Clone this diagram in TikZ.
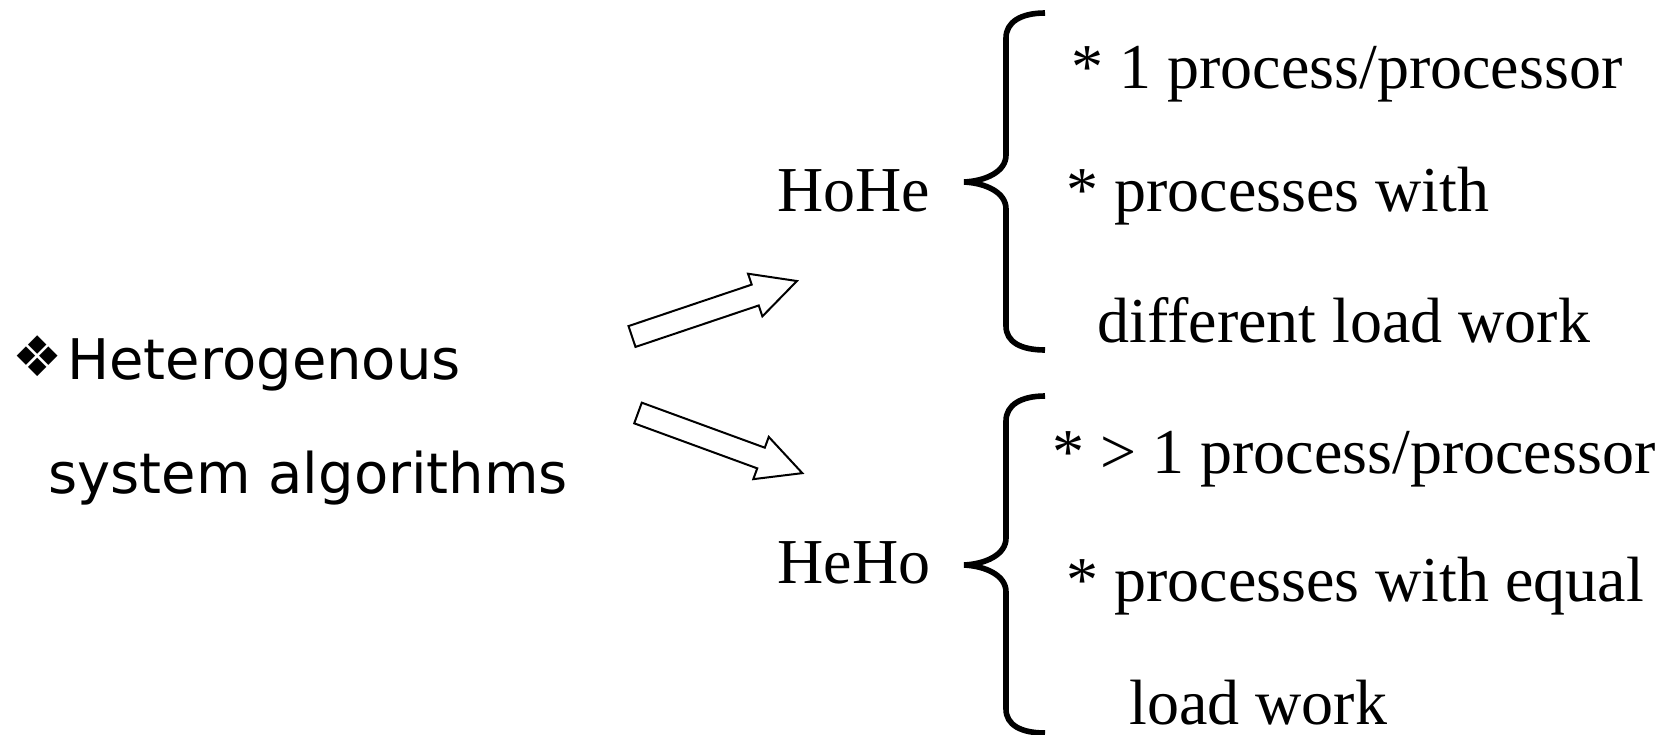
\documentclass[tikz,border=0pt]{standalone}
\usepackage{fontspec}
\setmainfont{Liberation Serif}
\newfontfamily\sansf{DejaVu Sans}
\begin{document}
\begin{tikzpicture}[x=0.5pt,y=-0.5pt,
  item/.style={inner sep=0pt, anchor=base west, font=\fontsize{32}{32}\selectfont},
  head/.style={inner sep=0pt, anchor=base west, font=\sansf\fontsize{28}{28}\selectfont},
  bracepath/.style={line width=2.8pt},
  arrowline/.style={draw, line width=1pt, fill=white, line join=miter},
  pics/curly/.style={code={
    \draw[bracepath] (0,-169) .. controls (-24,-169) and (-39,-160) .. (-39,-144)
      -- (-39,-27) .. controls (-39,-10) and (-60,-1) .. (-81,0)
      .. controls (-60,1) and (-39,10) .. (-39,27)
      -- (-39,144) .. controls (-39,160) and (-24,168) .. (0,168);}},
  pics/blockarrow/.style={code={
    \draw[arrowline] (0,-11) -- (#1-44,-11) -- (#1-44,-22.5) -- (#1,0)
      -- (#1-44,22.5) -- (#1-44,11) -- (0,11) -- cycle;}}]
\useasboundingbox (0,0) rectangle (1675,734);

% left heading
\node[head] (bul) at (12,376) {❖};
\node[head] (het) at (67,379) {Heterogenous};
\node[head] (sys) at (48,493) {system algorithms};

% the two kinds
\node[item] (hohe) at (777,211) {HoHe};
\node[item] (heho) at (777,583) {HeHo};

% block arrows towards the two kinds
\coordinate (up) at (632,336.5);
\coordinate (down) at (638,413);
\pic[rotate=18.6] at (up) {blockarrow=174};
\pic[rotate=-20.1] at (down) {blockarrow=175};

% braces
\pic at (1045,182) {curly};
\pic at (1045,565) {curly};

% HoHe properties
\node[item] (a1) at (1071,88) {* 1 process/processor};
\node[item] (a2) at (1066,211) {* processes with};
\node[item] (a3) at (1097,342) {different load work};

% HeHo properties
\node[item] (b1) at (1052,473) {* > 1 process/processor};
\node[item] (b2) at (1066,601) {* processes with equal};
\node[item] (b3) at (1129,724) {load work};
\end{tikzpicture}
\end{document}
